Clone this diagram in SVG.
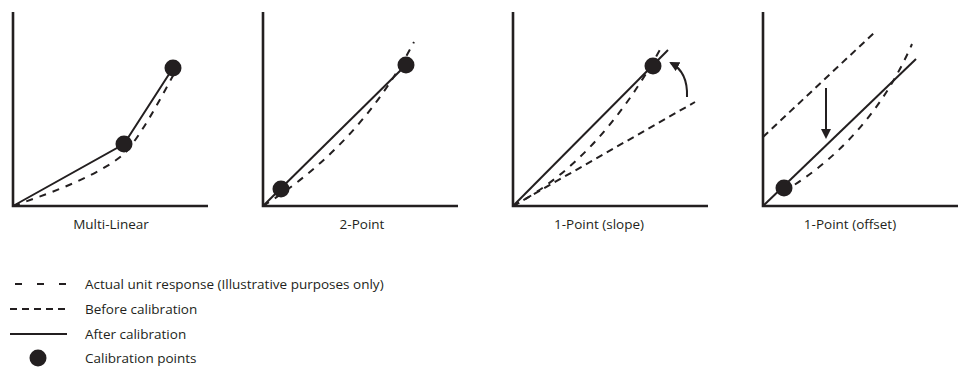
<svg xmlns="http://www.w3.org/2000/svg" width="960" height="378" viewBox="0 0 960 378">
<defs>
<style>
.axis{fill:none;stroke:#231f20;stroke-width:2.6}
.after{fill:none;stroke:#231f20;stroke-width:2}
.actual{fill:none;stroke:#231f20;stroke-width:2;stroke-dasharray:7 7}
.before{fill:none;stroke:#231f20;stroke-width:2;stroke-dasharray:7 5}
.pt{fill:#231f20}
.arr{fill:none;stroke:#231f20;stroke-width:2;marker-end:url(#ah)}
text{font-family:"Open Sans","Liberation Sans",sans-serif;font-size:13.5px;fill:#231f20}
.lbl{text-anchor:middle}
</style>
<marker id="ah" viewBox="0 0 10 10" refX="8" refY="5" markerWidth="5" markerHeight="5" orient="auto" markerUnits="strokeWidth">
<path d="M0,0 L10,5 L0,10 Z" fill="#231f20"/>
</marker>
</defs>

<g id="panel-multilinear">
<path class="axis" d="M13,12 V206 H208"/>
<text class="lbl" x="111" y="229">Multi-Linear</text>
</g>
<g id="panel-2point">
<path class="axis" d="M263,12 V206 H458"/>
<text class="lbl" x="362" y="229">2-Point</text>
</g>
<g id="panel-slope">
<path class="axis" d="M513,12 V206 H708"/>
<text class="lbl" x="599" y="229">1-Point (slope)</text>
</g>
<g id="panel-offset">
<path class="axis" d="M763,12 V206 H958"/>
<text class="lbl" x="850" y="229">1-Point (offset)</text>
</g>

<g id="connectors">
<!-- Multi-Linear -->
<path class="actual" d="M13,206 C60,190 100,174 124,154 C140,137 160,100 176,70"/>
<path class="after" d="M13,206 L124,144 L173,68"/>
<!-- 2-Point -->
<path class="actual" d="M263,206 Q360,145 414,42"/>
<path class="after" d="M263,206 L406,65"/>
<!-- 1-Point slope -->
<path class="actual" d="M513,206 Q600,160 662,46"/>
<path class="before" d="M513,206 L695,102"/>
<path class="after" d="M513,206 L668,50"/>
<path class="arr" d="M687,97 Q688,72 671,63"/>
<!-- 1-Point offset -->
<path class="actual" d="M783,192 Q870,140 912,44"/>
<path class="before" d="M763,137 L875,32"/>
<path class="after" d="M763,206 L916,59"/>
<path class="arr" d="M826,88 V137"/>
</g>

<g id="calibration-points">
<circle class="pt" cx="124" cy="144" r="8.5"/>
<circle class="pt" cx="173" cy="68" r="8.5"/>
<circle class="pt" cx="281" cy="189" r="8.5"/>
<circle class="pt" cx="406" cy="65" r="8.5"/>
<circle class="pt" cx="653" cy="66" r="8.5"/>
<circle class="pt" cx="784" cy="188" r="8.5"/>
</g>

<g id="legend">
<line class="after" x1="15" y1="284" x2="66" y2="284" style="stroke-dasharray:7 15"/>
<text x="85" y="289">Actual unit response (Illustrative purposes only)</text>
<line class="before" x1="10" y1="309" x2="67" y2="309"/>
<text x="85" y="314">Before calibration</text>
<line class="after" x1="10" y1="334" x2="67" y2="334"/>
<text x="85" y="339">After calibration</text>
<circle class="pt" cx="38" cy="358" r="8.5"/>
<text x="85" y="363">Calibration points</text>
</g>
</svg>
